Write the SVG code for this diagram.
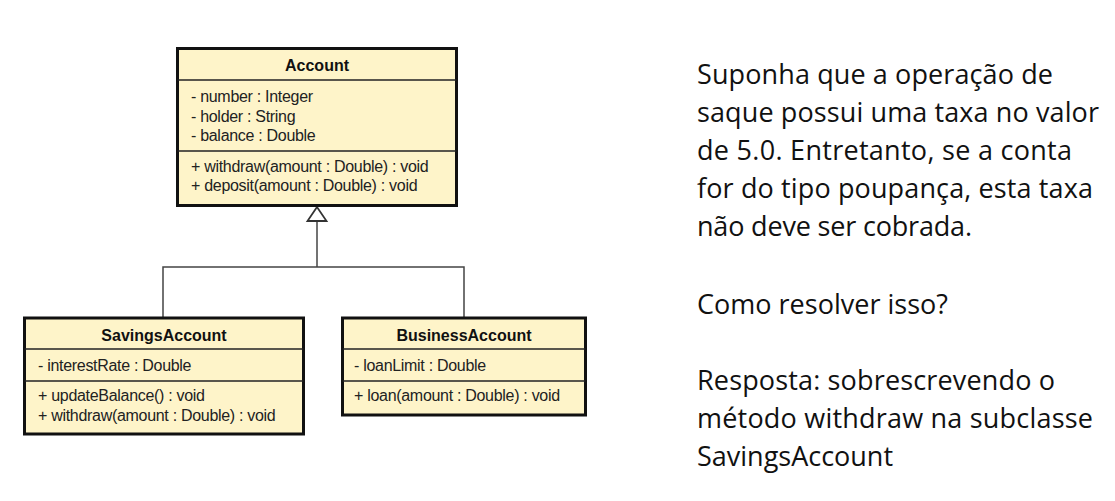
<svg xmlns="http://www.w3.org/2000/svg" width="1115" height="501" viewBox="0 0 1115 501">
<style>
.box{fill:#FEF4C9;stroke:#111;stroke-width:3}
.div{stroke:#222;stroke-width:1.5}
.ttl{font-family:"Liberation Sans",Arial,sans-serif;font-size:16px;font-weight:bold;fill:#111;text-anchor:middle}
.mem{font-family:"Liberation Sans",Arial,sans-serif;font-size:16px;fill:#222;letter-spacing:-0.3px}
.con{fill:none;stroke:#444;stroke-width:1.5}
.note{font-family:"Open Sans","Noto Sans",sans-serif;font-size:27px;fill:#111}
</style>
<rect width="1115" height="501" fill="#fff"/>
<g id="connectors">
<polyline class="con" points="163,317 163,267 464,267 464,317"/>
<line class="con" x1="317" y1="267" x2="317" y2="221"/>
<polygon points="317,207 307.5,221 326.5,221" fill="#fff" stroke="#333" stroke-width="1.8"/>
</g>
<g id="Account">
<rect class="box" x="177.5" y="48.5" width="279" height="157"/>
<line class="div" x1="177.5" y1="80" x2="456.5" y2="80"/>
<line class="div" x1="177.5" y1="151" x2="456.5" y2="151"/>
<text class="ttl" x="317" y="71">Account</text>
<text class="mem" x="191" y="102">- number : Integer</text>
<text class="mem" x="191" y="122">- holder : String</text>
<text class="mem" x="191" y="141">- balance : Double</text>
<text class="mem" x="191" y="172">+ withdraw(amount : Double) : void</text>
<text class="mem" x="191" y="191">+ deposit(amount : Double) : void</text>
</g>
<g id="SavingsAccount">
<rect class="box" x="24.5" y="318" width="279" height="116"/>
<line class="div" x1="24.5" y1="349" x2="303.5" y2="349"/>
<line class="div" x1="24.5" y1="381" x2="303.5" y2="381"/>
<text class="ttl" x="164" y="341">SavingsAccount</text>
<text class="mem" x="38" y="371">- interestRate : Double</text>
<text class="mem" x="38" y="401">+ updateBalance() : void</text>
<text class="mem" x="38" y="421">+ withdraw(amount : Double) : void</text>
</g>
<g id="BusinessAccount">
<rect class="box" x="342.5" y="318" width="243" height="97"/>
<line class="div" x1="342.5" y1="349" x2="585.5" y2="349"/>
<line class="div" x1="342.5" y1="381" x2="585.5" y2="381"/>
<text class="ttl" x="464" y="341">BusinessAccount</text>
<text class="mem" x="354" y="371">- loanLimit : Double</text>
<text class="mem" x="354" y="401">+ loan(amount : Double) : void</text>
</g>
<g id="note">
<text class="note" x="697" y="84" textLength="356">Suponha que a operação de</text>
<text class="note" x="697" y="122" textLength="402">saque possui uma taxa no valor</text>
<text class="note" x="697" y="160" textLength="375">de 5.0. Entretanto, se a conta</text>
<text class="note" x="697" y="198" textLength="396">for do tipo poupança, esta taxa</text>
<text class="note" x="697" y="236" textLength="275">não deve ser cobrada.</text>
<text class="note" x="697" y="314" textLength="251">Como resolver isso?</text>
<text class="note" x="697" y="390" textLength="358">Resposta: sobrescrevendo o</text>
<text class="note" x="697" y="428" textLength="396">método withdraw na subclasse</text>
<text class="note" x="697" y="466" textLength="196">SavingsAccount</text>
</g>
</svg>
